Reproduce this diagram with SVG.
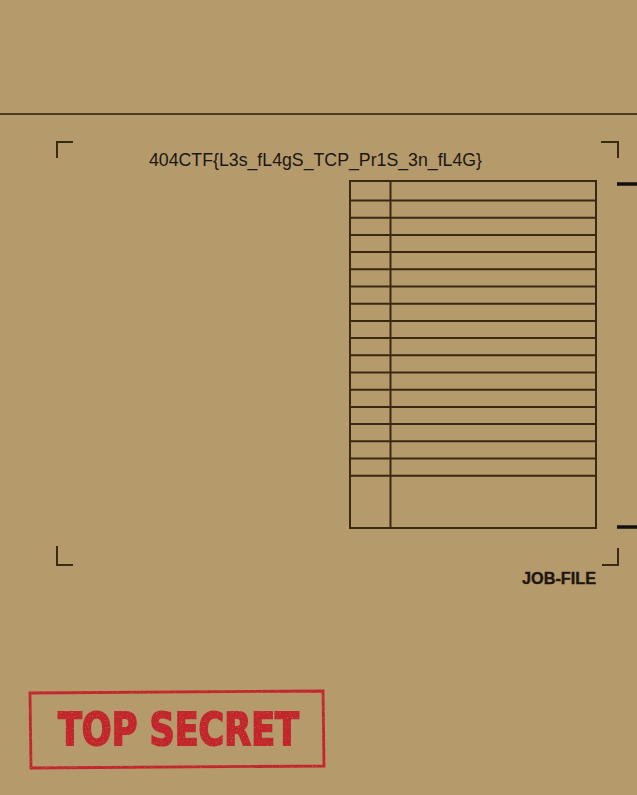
<svg xmlns="http://www.w3.org/2000/svg" width="637" height="795" viewBox="0 0 637 795">
<style>
.ln{stroke:#3a2a14;fill:none}
.tbl{stroke:#3a2812;stroke-width:2;fill:none}
.corner{stroke:#3a2a14;stroke-width:2;fill:none}
.flag{font-family:"Liberation Sans",Arial,sans-serif;font-size:18px;fill:#1a1610}
.job{font-family:"Liberation Sans",Arial,sans-serif;font-weight:bold;font-size:16px;fill:#1e170e;stroke:#1e170e;stroke-width:0.4}
.stamp{font-family:"DejaVu Sans",sans-serif;font-weight:bold;font-size:45px;fill:#c3252b;stroke:#c3252b;stroke-width:2}
</style>
<defs>
<filter id="rough" x="-5%" y="-5%" width="110%" height="110%">
<feTurbulence type="fractalNoise" baseFrequency="0.8" numOctaves="2" seed="3" result="n"/>
<feColorMatrix in="n" type="matrix" values="0 0 0 0 0  0 0 0 0 0  0 0 0 0 0  0 0 0 -1.6 1.9" result="m"/>
<feComposite in="SourceGraphic" in2="m" operator="in"/>
</filter>
</defs>
<rect x="0" y="0" width="637" height="795" fill="#b59a6c"/>
<g id="folder-edge">
<line x1="0" y1="114" x2="637" y2="114" stroke="#4a3a1e" stroke-width="2.2"/>
</g>
<g id="corners">
<path class="corner" d="M57 158 V142 H73"/>
<path class="corner" d="M601 142 H618 V158"/>
<path class="corner" d="M57 546 V565 H73"/>
<path class="corner" d="M602 565 H618 V548"/>
</g>
<g id="ticks">
<line x1="617" y1="184" x2="637" y2="184" stroke="#111" stroke-width="3.5"/>
<line x1="617" y1="527" x2="637" y2="527" stroke="#111" stroke-width="3.5"/>
</g>
<g id="flag">
<text class="flag" x="149" y="166" textLength="333" lengthAdjust="spacingAndGlyphs">404CTF{L3s_fL4gS_TCP_Pr1S_3n_fL4G}</text>
</g>
<g id="table">
<rect class="tbl" x="350" y="181" width="246" height="347"/>
<line class="tbl" x1="390.5" y1="181" x2="390.5" y2="528"/>
<path class="tbl" d="M350 200.5H596M350 217.7H596M350 234.9H596M350 252.1H596M350 269.3H596M350 286.5H596M350 303.7H596M350 320.9H596M350 338.1H596M350 355.3H596M350 372.5H596M350 389.7H596M350 406.9H596M350 424.1H596M350 441.3H596M350 458.5H596M350 475.7H596"/>
</g>
<g id="job-file">
<text class="job" x="522" y="584" textLength="74" lengthAdjust="spacingAndGlyphs">JOB-FILE</text>
</g>
<g id="stamp" filter="url(#rough)">
<path d="M30 693 L323 691 L324 766 L31 768 Z" fill="none" stroke="#c3252b" stroke-width="2.8"/>
<text class="stamp" x="58" y="745" textLength="241" lengthAdjust="spacingAndGlyphs">TOP SECRET</text>
</g>
</svg>
